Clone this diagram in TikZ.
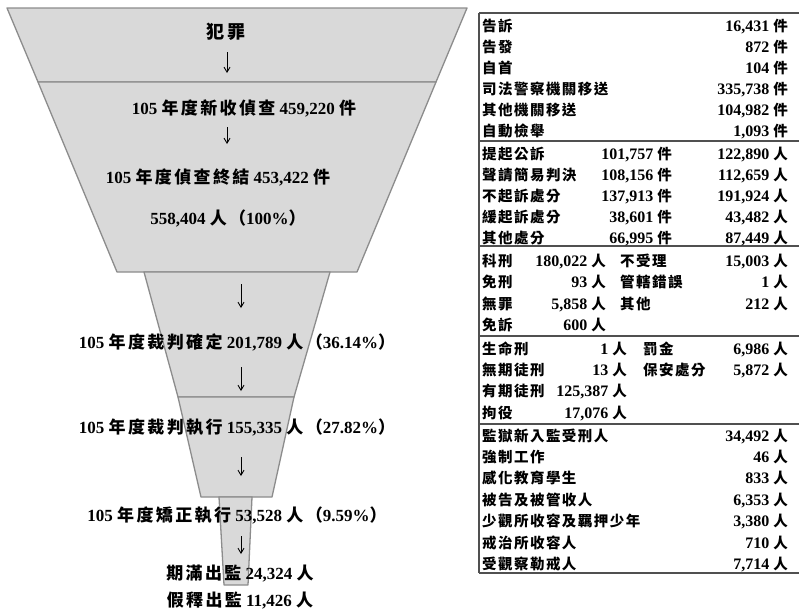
\documentclass[tikz,border=0pt]{standalone}
\usepackage{fontspec}
\setmainfont{Liberation Serif}
\newfontfamily\zhtab[LetterSpace=10]{Noto Sans CJK TC}
\newfontfamily\zhfun[LetterSpace=14]{Noto Sans CJK TC}
\newfontfamily\zhbig[LetterSpace=15]{Noto Sans CJK TC}
\newcommand\zt[1]{{\zhtab\bfseries\fontsize{14.5}{17}\selectfont #1}}
\newcommand\zf[1]{{\zhfun\bfseries #1}}
\usetikzlibrary{arrows.meta}
\definecolor{funfill}{HTML}{D9D9D9}
\definecolor{funline}{HTML}{8C8C8C}
\definecolor{tabline}{HTML}{505050}
\begin{document}
\begin{tikzpicture}[x=1pt,y=-1pt,
  seg/.style={fill=funfill, draw=funline, line width=1.3pt, line join=round},
  ftxt/.style={anchor=base, inner sep=0, font=\fontsize{17}{19}\selectfont\bfseries},
  arr/.style={-{Straight Barb[length=5pt,width=6pt]}, line width=0.9pt},
  tl/.style={anchor=base west, inner sep=0, font=\fontsize{16}{19}\selectfont\bfseries},
  tr/.style={anchor=base east, inner sep=0, font=\fontsize{16}{19}\selectfont\bfseries},
  tabrule/.style={draw=tabline, line width=1.3pt}]
\useasboundingbox (0,0) rectangle (799,611);
\fill[white] (0,0) rectangle (799,611);
% funnel
\filldraw[seg] (7,8) -- (467,8) -- (436,82) -- (38,82) -- cycle;
\filldraw[seg] (38,82) -- (436,82) -- (357,272) -- (117,272) -- cycle;
\filldraw[seg] (144,272) -- (330,272) -- (294,397) -- (178,397) -- cycle;
\filldraw[seg] (178,397) -- (294,397) -- (272,497) -- (201,497) -- cycle;
\filldraw[seg] (219,497) -- (252,497) -- (248,585) -- (224,585) -- cycle;
% funnel texts
\node[anchor=base, inner sep=0] (n0) at (226,38) {{\zhbig\bfseries\fontsize{18}{20}\selectfont 犯罪}};
\node[ftxt] (n1) at (244,114) {105 \zf{年度新收偵查} 459,220 \zf{件}};
\node[ftxt] (n2) at (218,183) {105 \zf{年度偵查終結} 453,422 \zf{件}};
\node[ftxt] (n3) at (228,224) {558,404 \zf{人（}100\%\zf{）}};
\node[ftxt] (n4) at (237,348) {105 \zf{年度裁判確定} 201,789 \zf{人（}36.14\%\zf{）}};
\node[ftxt] (n5) at (237,433) {105 \zf{年度裁判執行} 155,335 \zf{人（}27.82\%\zf{）}};
\node[ftxt] (n6) at (237,521) {105 \zf{年度矯正執行} 53,528 \zf{人（}9.59\%\zf{）}};
\node[ftxt] (n7) at (240,579) {\zf{期滿出監} 24,324 \zf{人}};
\node[ftxt] (n8) at (240,606) {\zf{假釋出監} 11,426 \zf{人}};
% arrows
\coordinate (a1s) at (227,52); \coordinate (a1e) at (227,73);
\coordinate (a2s) at (227,127); \coordinate (a2e) at (227,144);
\coordinate (a3s) at (241,284); \coordinate (a3e) at (241,308);
\coordinate (a4s) at (241,367); \coordinate (a4e) at (241,391);
\coordinate (a5s) at (241,457); \coordinate (a5e) at (241,476);
\coordinate (a6s) at (241,536); \coordinate (a6e) at (241,554);
\draw[arr] (a1s) -- (a1e);
\draw[arr] (a2s) -- (a2e);
\draw[arr] (a3s) -- (a3e);
\draw[arr] (a4s) -- (a4e);
\draw[arr] (a5s) -- (a5e);
\draw[arr] (a6s) -- (a6e);
% table rules
\coordinate (tl0) at (479,13); \coordinate (tr0) at (799,13);
\coordinate (tl1) at (479,141); \coordinate (tr1) at (799,141);
\coordinate (tl2) at (479,246); \coordinate (tr2) at (799,246);
\coordinate (tl3) at (479,336); \coordinate (tr3) at (799,336);
\coordinate (tl4) at (479,424); \coordinate (tr4) at (799,424);
\coordinate (tl5) at (479,573); \coordinate (tr5) at (799,573);
\draw[tabrule] (tl0) -- (tr0);
\draw[tabrule] (tl1) -- (tr1);
\draw[tabrule] (tl2) -- (tr2);
\draw[tabrule] (tl3) -- (tr3);
\draw[tabrule] (tl4) -- (tr4);
\draw[tabrule] (tl5) -- (tr5);
\draw[tabrule] (tl0) -- (tl5);
% section 1
\node[tl] (s1a) at (482,31) {\zt{告訴}};
\node[tr] (s1av) at (788,31) {16,431 \zt{件}};
\node[tl] (s1b) at (482,52) {\zt{告發}};
\node[tr] (s1bv) at (788,52) {872 \zt{件}};
\node[tl] (s1c) at (482,73) {\zt{自首}};
\node[tr] (s1cv) at (788,73) {104 \zt{件}};
\node[tl] (s1d) at (482,94) {\zt{司法警察機關移送}};
\node[tr] (s1dv) at (788,94) {335,738 \zt{件}};
\node[tl] (s1e) at (482,115) {\zt{其他機關移送}};
\node[tr] (s1ev) at (788,115) {104,982 \zt{件}};
\node[tl] (s1f) at (482,136) {\zt{自動檢舉}};
\node[tr] (s1fv) at (788,136) {1,093 \zt{件}};
% section 2
\node[tl] (s2a) at (482,159) {\zt{提起公訴}};
\node[tr] (s2am) at (672,159) {101,757 \zt{件}};
\node[tr] (s2av) at (788,159) {122,890 \zt{人}};
\node[tl] (s2b) at (482,180) {\zt{聲請簡易判決}};
\node[tr] (s2bm) at (672,180) {108,156 \zt{件}};
\node[tr] (s2bv) at (788,180) {112,659 \zt{人}};
\node[tl] (s2c) at (482,201) {\zt{不起訴處分}};
\node[tr] (s2cm) at (672,201) {137,913 \zt{件}};
\node[tr] (s2cv) at (788,201) {191,924 \zt{人}};
\node[tl] (s2d) at (482,222) {\zt{緩起訴處分}};
\node[tr] (s2dm) at (672,222) {38,601 \zt{件}};
\node[tr] (s2dv) at (788,222) {43,482 \zt{人}};
\node[tl] (s2e) at (482,243) {\zt{其他處分}};
\node[tr] (s2em) at (672,243) {66,995 \zt{件}};
\node[tr] (s2ev) at (788,243) {87,449 \zt{人}};
% section 3
\node[tl] (s3a) at (482,266) {\zt{科刑}};
\node[tr] (s3am) at (606,266) {180,022 \zt{人}};
\node[tl] (s3ar) at (620,266) {\zt{不受理}};
\node[tr] (s3av) at (788,266) {15,003 \zt{人}};
\node[tl] (s3b) at (482,287) {\zt{免刑}};
\node[tr] (s3bm) at (606,287) {93 \zt{人}};
\node[tl] (s3br) at (620,287) {\zt{管轄錯誤}};
\node[tr] (s3bv) at (788,287) {1 \zt{人}};
\node[tl] (s3c) at (482,309) {\zt{無罪}};
\node[tr] (s3cm) at (606,309) {5,858 \zt{人}};
\node[tl] (s3cr) at (620,309) {\zt{其他}};
\node[tr] (s3cv) at (788,309) {212 \zt{人}};
\node[tl] (s3d) at (482,330) {\zt{免訴}};
\node[tr] (s3dm) at (606,330) {600 \zt{人}};
% section 4
\node[tl] (s4a) at (482,354) {\zt{生命刑}};
\node[tr] (s4am) at (627,354) {1 \zt{人}};
\node[tl] (s4ar) at (643,354) {\zt{罰金}};
\node[tr] (s4av) at (788,354) {6,986 \zt{人}};
\node[tl] (s4b) at (482,375) {\zt{無期徒刑}};
\node[tr] (s4bm) at (627,375) {13 \zt{人}};
\node[tl] (s4br) at (643,375) {\zt{保安處分}};
\node[tr] (s4bv) at (788,375) {5,872 \zt{人}};
\node[tl] (s4c) at (482,396) {\zt{有期徒刑}};
\node[tr] (s4cm) at (627,396) {125,387 \zt{人}};
\node[tl] (s4d) at (482,418) {\zt{拘役}};
\node[tr] (s4dm) at (627,418) {17,076 \zt{人}};
% section 5
\node[tl] (s5a) at (482,441) {\zt{監獄新入監受刑人}};
\node[tr] (s5av) at (788,441) {34,492 \zt{人}};
\node[tl] (s5b) at (482,462) {\zt{強制工作}};
\node[tr] (s5bv) at (788,462) {46 \zt{人}};
\node[tl] (s5c) at (482,483) {\zt{感化教育學生}};
\node[tr] (s5cv) at (788,483) {833 \zt{人}};
\node[tl] (s5d) at (482,505) {\zt{被告及被管收人}};
\node[tr] (s5dv) at (788,505) {6,353 \zt{人}};
\node[tl] (s5e) at (482,526) {\zt{少觀所收容及羈押少年}};
\node[tr] (s5ev) at (788,526) {3,380 \zt{人}};
\node[tl] (s5f) at (482,548) {\zt{戒治所收容人}};
\node[tr] (s5fv) at (788,548) {710 \zt{人}};
\node[tl] (s5g) at (482,569) {\zt{受觀察勒戒人}};
\node[tr] (s5gv) at (788,569) {7,714 \zt{人}};
\end{tikzpicture}
\end{document}
